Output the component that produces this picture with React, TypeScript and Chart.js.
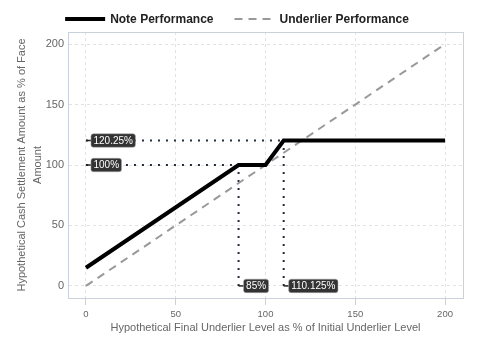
import React, { useEffect, useRef } from "react";
import { Chart, registerables } from "chart.js";

Chart.register(...registerables);

const underlierLevels = [0, 85, 100, 110.125, 200];
const notePerformance = [15, 100, 100, 120.25, 120.25];
const underlierX = [0, 200];
const underlierY = [0, 200];
const markerLabels = ["120.25%", "100%", "85%", "110.125%"];
const hRefY = [120.25, 100];
const hRefXEnd = [110.125, 85];
const vRefX = [85, 110.125];
const vRefYEnd = [100, 120.25];
const axisTicks = [0, 50, 100, 150, 200];

const FONT = "'Liberation Sans', Arial, sans-serif";
const BORDER = "#c9d1db";

const labelPlugin = {
  id: "refLabels",
  afterDatasetsDraw(chart: any) {
    const { ctx, scales } = chart;
    const xs = scales.x;
    const ys = scales.y;
    const pts: { x: number; y: number; t: string }[] = [
      { x: 0, y: hRefY[0], t: markerLabels[0] },
      { x: 0, y: hRefY[1], t: markerLabels[1] },
      { x: vRefX[0], y: 0, t: markerLabels[2] },
      { x: vRefX[1], y: 0, t: markerLabels[3] },
    ];
    ctx.save();
    ctx.font = `10px ${FONT}`;
    ctx.textBaseline = "middle";
    pts.forEach((p) => {
      const px = xs.getPixelForValue(p.x);
      const py = ys.getPixelForValue(p.y);
      const w = ctx.measureText(p.t).width + 5;
      const h = 13.5;
      const bx = px + 5;
      const by = py - h / 2;
      ctx.strokeStyle = "#222";
      ctx.lineWidth = 1.5;
      ctx.beginPath();
      ctx.moveTo(px, py);
      ctx.lineTo(bx, py);
      ctx.stroke();
      ctx.fillStyle = "#333";
      ctx.strokeStyle = "#aaa";
      ctx.lineWidth = 0.5;
      ctx.beginPath();
      (ctx as any).roundRect(bx, by, w, h, 2.5);
      ctx.fill();
      ctx.stroke();
      ctx.fillStyle = "#fff";
      ctx.textAlign = "left";
      ctx.fillText(p.t, bx + 2.5, py + 0.5);
    });
    ctx.restore();
  },
};

const frameAndLegendPlugin = {
  id: "frameLegend",
  beforeDatasetsDraw(chart: any) {
    const { ctx, chartArea: a } = chart;
    ctx.save();
    ctx.strokeStyle = BORDER;
    ctx.lineWidth = 1;
    ctx.strokeRect(Math.round(a.left) + 0.5, Math.round(a.top) + 0.5, Math.round(a.right - a.left), Math.round(a.bottom - a.top));
    ctx.restore();
  },
  afterDraw(chart: any) {
    const { ctx } = chart;
    const ds = chart.data.datasets.slice(0, 2);
    ctx.save();
    ctx.font = `bold 12px ${FONT}`;
    ctx.textBaseline = "middle";
    ctx.textAlign = "left";
    const lineW = 40;
    const gapText = 5;
    const gapItem = 21;
    const widths = ds.map((d: any) => ctx.measureText(d.label).width);
    const total = widths.reduce((s: number, w: number) => s + lineW + gapText + w, 0) + gapItem * (ds.length - 1);
    let x = chart.width / 2 - 3 - total / 2;
    const y = 19;
    ds.forEach((d: any, i: number) => {
      ctx.strokeStyle = d.borderColor;
      ctx.lineWidth = d.borderWidth;
      ctx.setLineDash(d.borderDash || []);
      ctx.beginPath();
      ctx.moveTo(x, y);
      ctx.lineTo(x + lineW, y);
      ctx.stroke();
      ctx.setLineDash([]);
      ctx.fillStyle = "#222";
      ctx.fillText(d.label, x + lineW + gapText, y + 0.5);
      x += lineW + gapText + widths[i] + gapItem;
    });
    ctx.restore();
  },
};

export default function App() {
  const ref = useRef<HTMLCanvasElement>(null);
  useEffect(() => {
    document.body.style.margin = "0";
    const dotted = {
      borderColor: "#1f2d3d",
      borderWidth: 2,
      borderDash: [2, 6],
      pointRadius: 0,
      showLine: true,
      fill: false,
    };
    const chart = new Chart(ref.current!, {
      type: "scatter",
      data: {
        datasets: [
          {
            label: "Note Performance",
            data: underlierLevels.map((x, i) => ({ x, y: notePerformance[i] })),
            borderColor: "#000",
            backgroundColor: "#000",
            borderWidth: 4,
            pointRadius: 0,
            showLine: true,
            order: 1,
          },
          {
            label: "Underlier Performance",
            data: underlierX.map((x, i) => ({ x, y: underlierY[i] })),
            borderColor: "#999",
            backgroundColor: "#999",
            borderWidth: 2,
            borderDash: [8, 6],
            pointRadius: 0,
            showLine: true,
            order: 2,
          },
          {
            label: "ref1",
            data: [{ x: 0, y: hRefY[0] }, { x: hRefXEnd[0], y: hRefY[0] }],
            ...dotted,
            order: 3,
          },
          {
            label: "ref2",
            data: [{ x: 0, y: hRefY[1] }, { x: hRefXEnd[1], y: hRefY[1] }],
            ...dotted,
            order: 3,
          },
          {
            label: "ref3",
            data: [{ x: vRefX[0], y: 0 }, { x: vRefX[0], y: vRefYEnd[0] }],
            ...dotted,
            order: 3,
          },
          {
            label: "ref4",
            data: [{ x: vRefX[1], y: 0 }, { x: vRefX[1], y: vRefYEnd[1] }],
            ...dotted,
            order: 3,
          },
        ],
      },
      options: {
        animation: false,
        responsive: false,
        layout: { padding: { left: 14, right: 17, top: 32, bottom: 25 } },
        plugins: {
          tooltip: { enabled: false },
          legend: { display: false },
        },
        scales: {
          x: {
            type: "linear",
            min: -10,
            max: 210,
            afterBuildTicks: (axis: any) => {
              axis.ticks = axisTicks.map((v) => ({ value: v }));
            },
            afterFit: (axis: any) => {
              axis.height = 37;
            },
            border: { color: BORDER, width: 1, dash: [3, 3] },
            grid: {
              color: "#e2e2e2",
              tickColor: BORDER,
              tickLength: 7,
              tickBorderDash: [],
            },
            ticks: { color: "#666", font: { family: FONT, size: 9.5 }, padding: 3.5 },
            title: {
              display: true,
              text: "Hypothetical Final Underlier Level as % of Initial Underlier Level",
              color: "#666",
              font: { family: FONT, size: 11, lineHeight: 1.2 },
              padding: { top: 0, bottom: 0 },
            },
          },
          y: {
            type: "linear",
            min: -10,
            max: 210,
            afterBuildTicks: (axis: any) => {
              axis.ticks = axisTicks.map((v) => ({ value: v }));
            },
            afterFit: (axis: any) => {
              axis.width = 54;
            },
            border: { color: BORDER, width: 1, dash: [3, 3] },
            grid: { color: "#e2e2e2", drawTicks: false },
            ticks: { color: "#666", font: { family: FONT, size: 11 }, padding: 4 },
            title: {
              display: true,
              text: ["Hypothetical Cash Settlement Amount as % of Face", "Amount"],
              color: "#666",
              font: { family: FONT, size: 11, lineHeight: 1.45 },
              padding: { top: 0, bottom: 0 },
            },
          },
        },
      } as any,
      plugins: [labelPlugin, frameAndLegendPlugin],
    });
    return () => chart.destroy();
  }, []);
  return (
    <div style={{ width: 480, height: 360, background: "#fff" }}>
      <canvas ref={ref} width={480} height={360} style={{ display: "block" }} />
    </div>
  );
}
